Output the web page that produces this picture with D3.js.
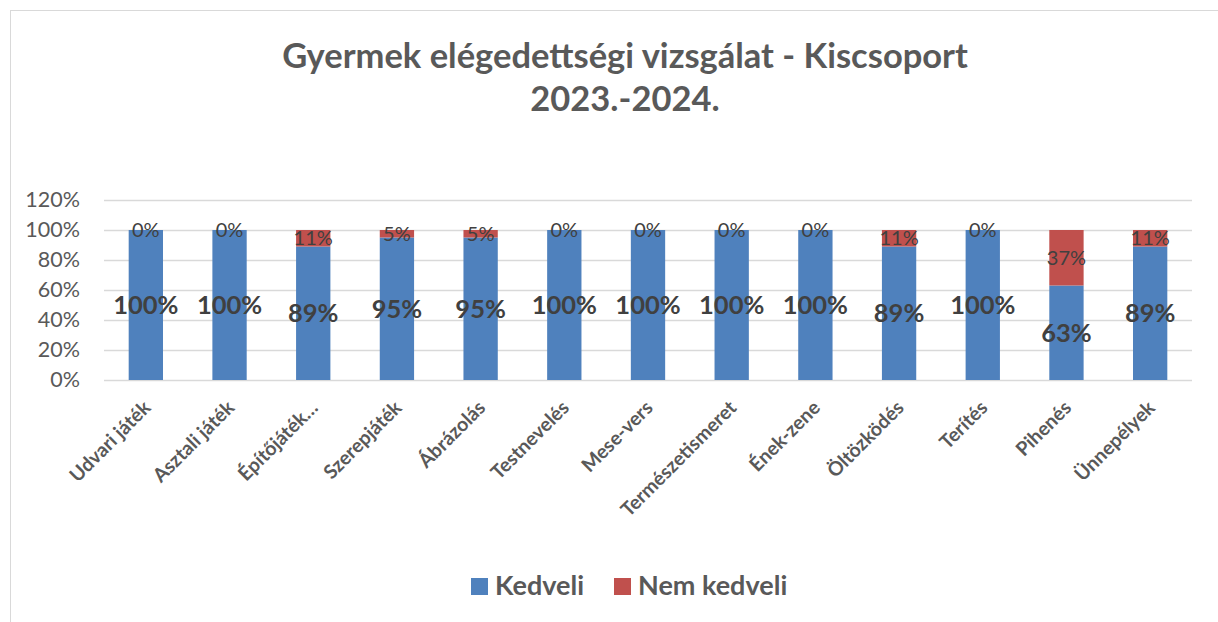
<!DOCTYPE html>
<html>
<head>
<meta charset="utf-8">
<script src="https://cdn.jsdelivr.net/npm/d3@7"></script>
<style>
  body { margin: 0; background: #fff; }
  text { font-family: Lato, "Open Sans", sans-serif; }
</style>
</head>
<body>
<div id="chart"></div>
<script>
// data
const categories = ['Udvari játék', 'Asztali játék', 'Építőjáték…', 'Szerepjáték', 'Ábrázolás',
  'Testnevelés', 'Mese-vers', 'Természetismeret', 'Ének-zene', 'Öltözködés', 'Terítés',
  'Pihenés', 'Ünnepélyek']
const kedveli = [100, 100, 89, 95, 95, 100, 100, 100, 100, 89, 100, 63, 89]
const nemKedveli = [0, 0, 11, 5, 5, 0, 0, 0, 0, 11, 0, 37, 11]
const seriesNames = ['Kedveli', 'Nem kedveli']
const yTicks = [0, 20, 40, 60, 80, 100, 120]

const W = 1218
const H = 622
const c_blue = '#4f81bd'
const c_red = '#c0504d'
const c_text = '#595959'
const c_label = '#404040'

const margin = { left: 104, right: 26, top: 200, bottom: 242 }

const svg = d3.select('#chart').append('svg')
  .attr('width', W)
  .attr('height', H)

// chart border
svg.append('rect')
  .attr('x', 10.5).attr('y', 10.5)
  .attr('width', W + 20).attr('height', H + 20)
  .attr('fill', 'none')
  .attr('stroke', '#d9d9d9')

// title
const title = svg.append('text')
  .attr('text-anchor', 'middle')
  .attr('fill', c_text)
  .style('font-size', '34.5px')
  .style('font-weight', 'bold')
title.append('tspan').attr('x', 625).attr('y', 68).text('Gyermek elégedettségi vizsgálat - Kiscsoport')
title.append('tspan').attr('x', 625).attr('y', 111).text('2023.-2024.')

const x = d3.scaleBand()
  .domain(categories)
  .range([margin.left, W - margin.right])
  .paddingInner(0.59)
  .paddingOuter(0.295)

const y = d3.scaleLinear()
  .domain([0, 120])
  .range([H - margin.bottom, margin.top])

// gridlines
svg.append('g')
  .selectAll('line')
  .data(yTicks)
  .enter()
  .append('line')
  .attr('x1', margin.left)
  .attr('x2', W - margin.right)
  .attr('y1', (d) => Math.round(y(d)) + 0.5)
  .attr('y2', (d) => Math.round(y(d)) + 0.5)
  .attr('stroke', '#d9d9d9')
  .attr('stroke-width', 1.5)

// y axis labels
let y_axis = d3.axisLeft(y).tickValues(yTicks).tickFormat((d) => d + '%').tickSize(0).tickPadding(24)
svg.append('g')
  .attr('transform', `translate(${margin.left},0)`)
  .call(y_axis)
  .call((g) => g.select('.domain').remove())
  .call((g) => g.selectAll('text')
    .attr('fill', c_text)
    .style('font-size', '21.5px')
    .style('font-family', 'Lato, sans-serif'))

// stacked bars
const rows = categories.map((c, i) => ({ cat: c, kedveli: kedveli[i], nem: nemKedveli[i] }))
const stack = d3.stack().keys(['kedveli', 'nem'])(rows)
const colors = [c_blue, c_red]

stack.forEach((layer, li) => {
  svg.append('g')
    .selectAll('rect')
    .data(layer)
    .enter()
    .append('rect')
    .attr('x', (d) => x(d.data.cat))
    .attr('y', (d) => y(d[1]))
    .attr('width', x.bandwidth())
    .attr('height', (d) => y(d[0]) - y(d[1]))
    .attr('fill', colors[li])
})

// data labels
stack.forEach((layer, li) => {
  svg.append('g')
    .selectAll('text')
    .data(layer)
    .enter()
    .append('text')
    .attr('x', (d) => x(d.data.cat) + x.bandwidth() / 2)
    .attr('y', (d) => (y(d[0]) + y(d[1])) / 2)
    .attr('dy', '0.35em')
    .attr('text-anchor', 'middle')
    .attr('fill', c_label)
    .style('font-size', li === 0 ? '25.5px' : '20px')
    .style('font-weight', li === 0 ? 'bold' : 'normal')
    .text((d) => (d[1] - d[0]) + '%')
})

// x labels, rotated
svg.append('g')
  .selectAll('text')
  .data(categories)
  .enter()
  .append('text')
  .attr('transform', (d) => `translate(${x(d) + x.bandwidth() / 2 + 6},${H - margin.bottom + 29}) rotate(-45)`)
  .attr('text-anchor', 'end')
  .attr('fill', c_text)
  .style('font-size', '19.5px')
  .style('font-weight', 'bold')
  .text((d) => d)

// legend
const legend = svg.append('g')
  .attr('transform', 'translate(471,578)')
const lx = [0, 143]
seriesNames.forEach((name, i) => {
  legend.append('rect')
    .attr('x', lx[i]).attr('y', 0)
    .attr('width', 17).attr('height', 17)
    .attr('fill', colors[i])
  legend.append('text')
    .attr('x', lx[i] + 24).attr('y', 8)
    .attr('dy', '0.35em')
    .attr('fill', c_text)
    .style('font-size', '27px')
    .style('font-weight', 'bold')
    .text(name)
})
</script>
</body>
</html>
